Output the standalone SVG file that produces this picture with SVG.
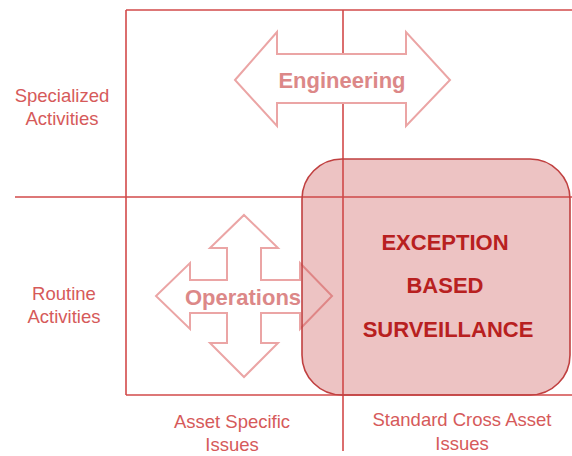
<svg xmlns="http://www.w3.org/2000/svg" width="572" height="456" viewBox="0 0 572 456">
<style>
.grid{stroke:#d24a4a;stroke-width:1.6;fill:none}
.arrow{fill:#fff;stroke:#eba5a5;stroke-width:2;stroke-linejoin:miter}
.atext{font-family:"Liberation Sans",Arial,sans-serif;font-weight:bold;fill:#dc8888;text-anchor:middle}
.lab{font-family:"Liberation Sans",Arial,sans-serif;fill:#d65a5a;text-anchor:middle;font-size:18.5px}
.ebs{font-family:"Liberation Sans",Arial,sans-serif;font-weight:bold;fill:#b82020;text-anchor:middle;font-size:22px}
</style>
<rect width="572" height="456" fill="#fff"/>
<g id="grid">
<line class="grid" x1="126" y1="10" x2="572" y2="10"/>
<line class="grid" x1="126" y1="10" x2="126" y2="395"/>
<line class="grid" x1="15" y1="197" x2="572" y2="197"/>
<line class="grid" x1="126" y1="395" x2="572" y2="395"/>
<line class="grid" x1="343" y1="10" x2="343" y2="451"/>
</g>
<g id="engineering">
<path class="arrow" d="M235,80 L277,32 L277,54 L406,54 L406,32 L450,80 L406,126 L406,103 L277,103 L277,126 Z"/>
<text class="atext" x="342" y="88" font-size="22">Engineering</text>
</g>
<g id="operations">
<path class="arrow" d="M244,215 L278,248 L261,248 L261,280 L300,280 L300,263 L332,296 L300,329 L300,313 L261,313 L261,343 L278,343 L244,377 L210,343 L227,343 L227,313 L190,313 L190,329 L156,296 L190,263 L190,280 L227,280 L227,248 L210,248 Z"/>
<text class="atext" x="243" y="305" font-size="22">Operations</text>
</g>
<g id="surveillance">
<rect x="302" y="159" width="268" height="236" rx="40" ry="40" fill="#c84848" fill-opacity="0.33" stroke="#c04040" stroke-width="1.6"/>
<text class="ebs" x="445" y="250">EXCEPTION</text>
<text class="ebs" x="445" y="293">BASED</text>
<text class="ebs" x="448" y="337">SURVEILLANCE</text>
</g>
<g id="specialized">
<text class="lab" x="62" y="102">Specialized</text>
<text class="lab" x="62" y="125">Activities</text>
</g>
<g id="routine">
<text class="lab" x="64" y="300">Routine</text>
<text class="lab" x="64" y="323">Activities</text>
</g>
<g id="asset-specific">
<text class="lab" x="232" y="428">Asset Specific</text>
<text class="lab" x="232" y="451">Issues</text>
</g>
<g id="cross-asset">
<text class="lab" x="462" y="426">Standard Cross Asset</text>
<text class="lab" x="462" y="450">Issues</text>
</g>
</svg>
